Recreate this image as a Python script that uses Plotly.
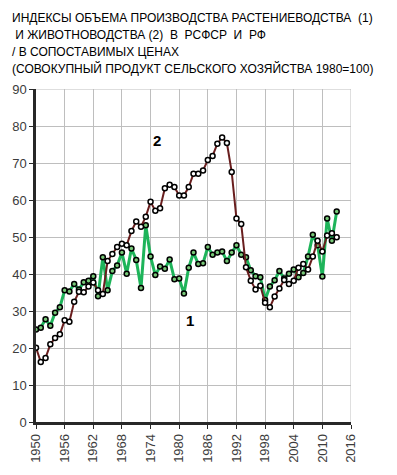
import plotly.graph_objects as go

years = list(range(1950, 2014))

crop = [25.0, 25.5, 27.8, 26.0, 29.5, 31.0, 35.6, 35.3, 37.3, 35.8,
        37.8, 38.2, 39.4, 34.0, 44.5, 35.6, 40.8, 42.3, 45.8, 40.1,
        46.9, 43.8, 36.2, 53.2, 44.7, 39.7, 42.0, 41.4, 43.9, 38.6,
        38.8, 34.7, 41.7, 45.8, 42.7, 42.9, 47.3, 45.2, 45.8, 46.1,
        43.5, 45.8, 47.8, 45.2, 44.5, 41.0, 39.4, 39.1, 33.0, 36.6,
        38.3, 40.8, 38.8, 40.1, 41.2, 39.1, 40.3, 44.7, 50.6, 47.8,
        39.3, 55.0, 49.0, 56.9]

livestock = [20.1, 16.2, 17.3, 21.0, 22.7, 23.7, 27.5, 27.1, 32.5, 35.2,
             35.1, 36.6, 37.7, 35.6, 34.6, 43.5, 45.4, 47.3, 48.2, 47.8,
             51.6, 54.2, 52.8, 55.5, 59.5, 57.1, 57.8, 63.2, 64.1, 63.5,
             61.2, 61.2, 63.5, 67.1, 67.1, 68.0, 70.8, 71.9, 75.2, 76.9,
             75.4, 67.6, 55.0, 53.5, 41.8, 38.2, 35.8, 36.8, 32.2, 31.0,
             33.9, 36.1, 38.4, 37.3, 38.2, 41.7, 42.7, 41.2, 44.7, 49.0,
             46.1, 50.4, 51.0, 49.9]

title_lines = [
    "ИНДЕКСЫ ОБЪЕМА ПРОИЗВОДСТВА РАСТЕНИЕВОДСТВА  (1)",
    " И ЖИВОТНОВОДСТВА (2)  В  РСФСР  И  РФ",
    "/ В СОПОСТАВИМЫХ ЦЕНАХ",
    "(СОВОКУПНЫЙ ПРОДУКТ СЕЛЬСКОГО ХОЗЯЙСТВА 1980=100)",
]

x_ticks = list(range(1950, 2017, 6))
y_ticks = list(range(0, 91, 10))

fig = go.Figure()
fig.add_trace(go.Scatter(
    x=years, y=crop, mode="lines+markers", name="1",
    line=dict(color="rgb(30,180,90)", width=3),
    marker=dict(symbol="circle", size=5, color="rgb(120,200,120)",
                line=dict(color="black", width=1.5)),
))
fig.add_trace(go.Scatter(
    x=years, y=livestock, mode="lines+markers", name="2",
    line=dict(color="rgb(105,30,30)", width=2),
    marker=dict(symbol="circle", size=5, color="white",
                line=dict(color="black", width=1.5)),
))

font_family = "Liberation Sans, Arial, sans-serif"
ann = []
tops = [6, 24, 41, 58]
for i, (t, yt) in enumerate(zip(title_lines, tops)):
    ann.append(dict(text=t, xref="paper", yref="paper", x=-0.082,
                    y=1 + (89 - yt) / 345.0, xanchor="left", yanchor="top",
                    showarrow=False, font=dict(family=font_family, size=12, color="black")))
ann.append(dict(text="<b>2</b>", x=1975.4, y=76.2, xref="x", yref="y", showarrow=False,
                font=dict(family=font_family, size=15, color="black")))
ann.append(dict(text="<b>1</b>", x=1982.3, y=27.5, xref="x", yref="y", showarrow=False,
                font=dict(family=font_family, size=15, color="black")))

fig.update_layout(
    width=397, height=475,
    margin=dict(l=33, r=46, t=89, b=41),
    paper_bgcolor="white", plot_bgcolor="white",
    showlegend=False,
    annotations=ann,
    xaxis=dict(range=[1950, 2016], tickvals=x_ticks, ticktext=[str(v) for v in x_ticks],
               tickangle=-90, showgrid=True, gridcolor="rgb(190,190,190)", gridwidth=1,
               showline=True, linecolor="rgb(40,40,40)", linewidth=2.5,
               ticks="outside", ticklen=4, tickcolor="rgb(40,40,40)",
               tickfont=dict(family=font_family, size=13, color="rgb(60,60,60)"),
               zeroline=False, mirror=False),
    yaxis=dict(range=[0, 90], tickvals=y_ticks, showgrid=True,
               gridcolor="rgb(190,190,190)", gridwidth=1,
               showline=True, linecolor="rgb(40,40,40)", linewidth=2.5,
               ticks="outside", ticklen=4, tickcolor="rgb(40,40,40)",
               tickfont=dict(family=font_family, size=13, color="rgb(60,60,60)"),
               zeroline=False),
)
fig.add_shape(type="line", xref="x", yref="paper", x0=2016, x1=2016, y0=0, y1=1,
              line=dict(color="rgb(190,190,190)", width=1))
fig.add_shape(type="line", xref="paper", yref="y", x0=0, x1=1, y0=90, y1=90,
              line=dict(color="rgb(190,190,190)", width=1))

fig.write_html("out.html")
